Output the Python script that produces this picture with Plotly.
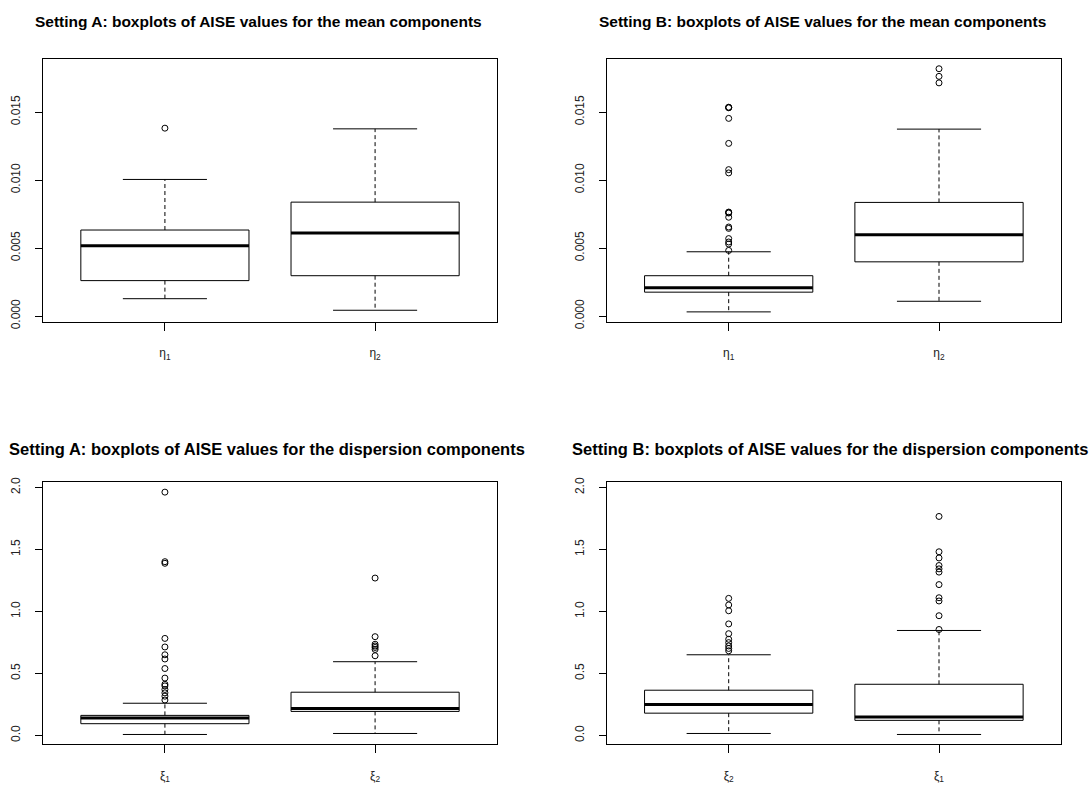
import plotly.graph_objects as go

# ---------------- data ----------------
# Setting A, mean components
A_MEAN_LABELS = ["η<sub>1</sub>", "η<sub>2</sub>"]
A_MEAN_LOW = [0.00128, 0.00043]
A_MEAN_Q1 = [0.00261, 0.00297]
A_MEAN_MED = [0.00517, 0.00611]
A_MEAN_Q3 = [0.00633, 0.00838]
A_MEAN_HIGH = [0.01005, 0.01377]
A_MEAN_OUT = [[0.01382], []]

# Setting B, mean components
B_MEAN_LABELS = ["η<sub>1</sub>", "η<sub>2</sub>"]
B_MEAN_LOW = [0.00031, 0.00109]
B_MEAN_Q1 = [0.00176, 0.00399]
B_MEAN_MED = [0.00208, 0.00599]
B_MEAN_Q3 = [0.00297, 0.00836]
B_MEAN_HIGH = [0.00473, 0.01375]
B_MEAN_OUT = [
    [0.01536, 0.01534, 0.01532, 0.01454, 0.01270, 0.01077, 0.01053,
     0.00765, 0.00762, 0.00758, 0.00727, 0.00655, 0.00645, 0.00570,
     0.00545, 0.00530, 0.00483],
    [0.01819, 0.01763, 0.01715],
]

# Setting A, dispersion components
A_DISP_LABELS = ["ξ<sub>1</sub>", "ξ<sub>2</sub>"]
A_DISP_LOW = [0.008, 0.016]
A_DISP_Q1 = [0.095, 0.194]
A_DISP_MED = [0.140, 0.217]
A_DISP_Q3 = [0.162, 0.349]
A_DISP_HIGH = [0.260, 0.595]
A_DISP_OUT = [
    [1.963, 1.402, 1.389, 0.783, 0.714, 0.651, 0.617, 0.540, 0.463,
     0.413, 0.400, 0.371, 0.344, 0.317, 0.286],
    [1.270, 0.797, 0.736, 0.722, 0.710, 0.694, 0.643],
]

# Setting B, dispersion components
B_DISP_LABELS = ["ξ<sub>2</sub>", "ξ<sub>1</sub>"]
B_DISP_LOW = [0.016, 0.008]
B_DISP_Q1 = [0.180, 0.122]
B_DISP_MED = [0.249, 0.148]
B_DISP_Q3 = [0.365, 0.413]
B_DISP_HIGH = [0.651, 0.847]
B_DISP_OUT = [
    [1.106, 1.053, 1.006, 0.900, 0.821, 0.776, 0.749, 0.722, 0.702, 0.683],
    [1.767, 1.482, 1.432, 1.371, 1.344, 1.318, 1.217, 1.111, 1.085,
     0.966, 0.855],
]

TITLES = [
    "Setting A: boxplots of AISE values for the mean components",
    "Setting B: boxplots of AISE values for the mean components",
    "Setting A: boxplots of AISE values for the dispersion components",
    "Setting B: boxplots of AISE values for the dispersion components",
]

# ---------------- layout constants ----------------
W, H = 1091, 786
FONT = "Liberation Sans, Arial, Helvetica, sans-serif"
BOX_HALF = 0.4
STAPLE_HALF = 0.2

panels = [
    dict(xa="x", ya="y", labels=A_MEAN_LABELS, low=A_MEAN_LOW, q1=A_MEAN_Q1, med=A_MEAN_MED,
         q3=A_MEAN_Q3, high=A_MEAN_HIGH, out=A_MEAN_OUT),
    dict(xa="x2", ya="y2", labels=B_MEAN_LABELS, low=B_MEAN_LOW, q1=B_MEAN_Q1, med=B_MEAN_MED,
         q3=B_MEAN_Q3, high=B_MEAN_HIGH, out=B_MEAN_OUT),
    dict(xa="x3", ya="y3", labels=A_DISP_LABELS, low=A_DISP_LOW, q1=A_DISP_Q1, med=A_DISP_MED,
         q3=A_DISP_Q3, high=A_DISP_HIGH, out=A_DISP_OUT),
    dict(xa="x4", ya="y4", labels=B_DISP_LABELS, low=B_DISP_LOW, q1=B_DISP_Q1, med=B_DISP_MED,
         q3=B_DISP_Q3, high=B_DISP_HIGH, out=B_DISP_OUT),
]

fig = go.Figure()

for p in panels:
    for i in range(len(p["labels"])):
        c = i + 1
        common = dict(xaxis=p["xa"], yaxis=p["ya"], mode="lines", showlegend=False,
                      hoverinfo="skip")
        # box
        fig.add_trace(go.Scatter(
            x=[c - BOX_HALF, c + BOX_HALF, c + BOX_HALF, c - BOX_HALF, c - BOX_HALF],
            y=[p["q1"][i], p["q1"][i], p["q3"][i], p["q3"][i], p["q1"][i]],
            line=dict(color="black", width=1), **common))
        # whiskers (dashed)
        fig.add_trace(go.Scatter(x=[c, c], y=[p["q3"][i], p["high"][i]],
                                 line=dict(color="black", width=1, dash="4px,3px"), **common))
        fig.add_trace(go.Scatter(x=[c, c], y=[p["q1"][i], p["low"][i]],
                                 line=dict(color="black", width=1, dash="4px,3px"), **common))
        # staples
        fig.add_trace(go.Scatter(x=[c - STAPLE_HALF, c + STAPLE_HALF],
                                 y=[p["high"][i], p["high"][i]],
                                 line=dict(color="black", width=1), **common))
        fig.add_trace(go.Scatter(x=[c - STAPLE_HALF, c + STAPLE_HALF],
                                 y=[p["low"][i], p["low"][i]],
                                 line=dict(color="black", width=1), **common))
        # median (thick)
        fig.add_trace(go.Scatter(x=[c - BOX_HALF, c + BOX_HALF],
                                 y=[p["med"][i], p["med"][i]],
                                 line=dict(color="black", width=3), **common))
        # outliers
        if p["out"][i]:
            fig.add_trace(go.Scatter(
                x=[c] * len(p["out"][i]), y=p["out"][i], xaxis=p["xa"], yaxis=p["ya"],
                mode="markers", showlegend=False, hoverinfo="skip",
                marker=dict(symbol="circle-open", size=6, color="black",
                            line=dict(width=1, color="black"))))

# domains (pixels -> paper)
def px_x(a, b):
    return [a / W, b / W]

def px_y(top, bottom):
    return [1 - bottom / H, 1 - top / H]

x_left = px_x(43, 497)
x_right = px_x(606.7, 1061)
y_top = px_y(55, 322)
y_bot = px_y(485, 751.7)

axis_common = dict(showgrid=False, zeroline=False, showline=True, mirror=True,
                   linecolor="black", linewidth=1, ticks="outside", tickcolor="black",
                   tickwidth=1)
tick_font_y = dict(family=FONT, size=12, color="#222")
tick_font_x = dict(family=FONT, size=12, color="#222")

def xaxis(dom, labels, anchor):
    return dict(domain=dom, range=[0.42, 2.58], tickvals=[1, 2], ticktext=labels,
                ticklen=8, anchor=anchor, ticklabelstandoff=12, tickfont=tick_font_x,
                **axis_common)

def yaxis_mean(dom, anchor):
    return dict(domain=dom, range=[-0.00041, 0.0189], tickvals=[0, 0.005, 0.010, 0.015],
                ticktext=["0.000", "0.005", "0.010", "0.015"], tickangle=-90,
                ticklen=7, anchor=anchor, ticklabelstandoff=10, tickfont=tick_font_y,
                **axis_common)

def yaxis_disp(dom, anchor):
    return dict(domain=dom, range=[-0.071, 2.045], tickvals=[0, 0.5, 1.0, 1.5, 2.0],
                ticktext=["0.0", "0.5", "1.0", "1.5", "2.0"], tickangle=-90,
                ticklen=7, anchor=anchor, ticklabelstandoff=10, tickfont=tick_font_y,
                **axis_common)

fig.update_layout(
    width=W, height=H, margin=dict(l=0, r=0, t=0, b=0),
    paper_bgcolor="white", plot_bgcolor="white",
    xaxis=xaxis(x_left, A_MEAN_LABELS, "y"),
    yaxis=yaxis_mean(y_top, "x"),
    xaxis2=xaxis(x_right, B_MEAN_LABELS, "y2"),
    yaxis2=yaxis_mean(y_top, "x2"),
    xaxis3=xaxis(x_left, A_DISP_LABELS, "y3"),
    yaxis3=yaxis_disp(y_bot, "x3"),
    xaxis4=xaxis(x_right, B_DISP_LABELS, "y4"),
    yaxis4=yaxis_disp(y_bot, "x4"),
)

title_pos = [(258, 17, 15.5), (822, 17, 15.5), (267, 451, 16.5), (830, 451, 16.5)]
for t, (cx, cy, fs) in zip(TITLES, title_pos):
    fig.add_annotation(text="<b>" + t + "</b>", x=cx / W, y=1 - cy / H, xref="paper",
                       yref="paper", showarrow=False, xanchor="center", yanchor="middle",
                       font=dict(family=FONT, size=fs, color="black"))

fig.write_html("out.html", config={"displayModeBar": False},
               post_script="document.body.style.margin='0';document.body.style.padding='0';")
